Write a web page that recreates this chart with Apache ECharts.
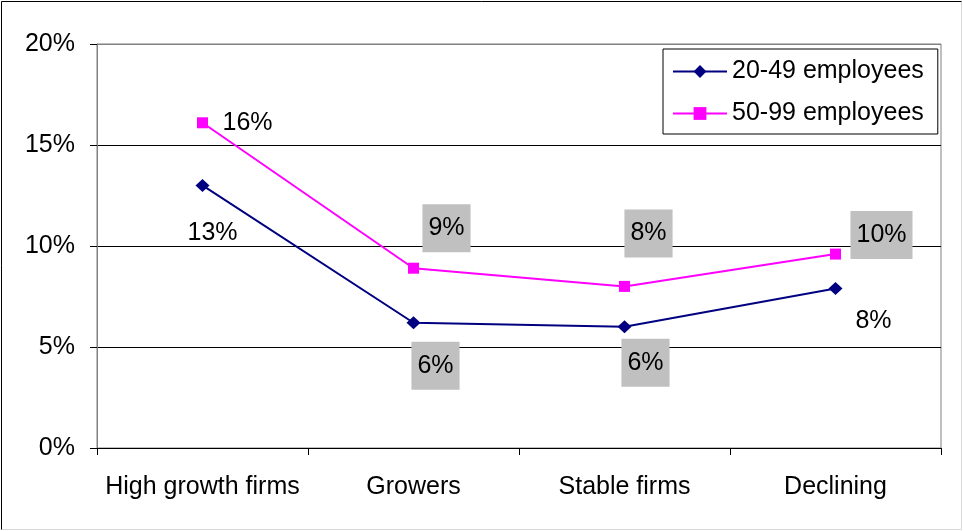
<!DOCTYPE html>
<html>
<head>
<meta charset="utf-8">
<script src="https://cdn.jsdelivr.net/npm/echarts@6/dist/echarts.min.js"></script>
<style>
  html, body { margin: 0; padding: 0; background: #fff; }
  #chart { width: 963px; height: 531px; }
</style>
</head>
<body>
<div id="chart"></div>
<script>
// Share of firms by growth class, per size band (percent)
const categories = ['High growth firms', 'Growers', 'Stable firms', 'Declining'];
const seriesNames = ['20-49 employees', '50-99 employees'];
const firms20to49 = [13.0, 6.2, 6.0, 7.9];
const firms50to99 = [16.1, 8.9, 8.0, 9.6];
const yTickValues = [0, 5, 10, 15, 20];

// Per-point label placement (offset from the marker centre, boxed or plain)
const offsets20to49 = [[10, 48], [22, 43], [21, 36], [38, 33]];
const boxed20to49 = [false, true, true, false];
const offsets50to99 = [[45, 0], [33, -40], [24, -53], [46, -19]];
const boxed50to99 = [false, true, true, true];

const FONT = '"Liberation Sans", Arial, Helvetica, sans-serif';
const FS = 25;

function buildData(values, offsets, boxed) {
  return values.map((v, i) => ({
    value: v,
    label: {
      show: true,
      position: 'inside',
      offset: offsets[i],
      color: '#000',
      fontFamily: FONT,
      fontSize: FS,
      backgroundColor: boxed[i] ? '#C0C0C0' : 'transparent',
      padding: boxed[i] ? [12, 6, 11, 6] : 0,
      formatter: p => Math.round(p.value) + '%'
    }
  }));
}

const chart = echarts.init(document.getElementById('chart'), null, { renderer: 'canvas' });

chart.setOption({
  animation: false,
  backgroundColor: '#fff',
  textStyle: { fontFamily: FONT, color: '#000' },
  graphic: [
    { type: 'polyline', shape: { points: [[1.5, 530], [1.5, 1.5], [962, 1.5]] }, style: { stroke: '#000', lineWidth: 1, fill: null }, silent: true },
    { type: 'polyline', shape: { points: [[1.5, 529.5], [961.5, 529.5], [961.5, 1.5]] }, style: { stroke: '#d8d8d8', lineWidth: 1, fill: null }, silent: true }
  ],
  grid: {
    left: 97, right: 22, top: 44, bottom: 83,
    show: true, borderColor: '#808080', borderWidth: 1, backgroundColor: '#fff'
  },
  legend: {
    orient: 'vertical',
    left: 663, top: 49,
    padding: [10, 14, 8, 9],
    itemGap: 17,
    itemWidth: 54,
    itemHeight: 16,
    backgroundColor: '#fff',
    borderColor: '#000',
    borderWidth: 1,
    borderRadius: 0,
    textStyle: { fontFamily: FONT, fontSize: FS, color: '#000' },
    data: seriesNames
  },
  xAxis: {
    type: 'category',
    data: categories,
    boundaryGap: true,
    axisLine: { lineStyle: { color: '#000', width: 1 } },
    axisTick: { show: true, interval: 0, length: 7, inside: false, lineStyle: { color: '#000' } },
    axisLabel: { interval: 0, margin: 27, fontFamily: FONT, fontSize: FS, color: '#000' },
    splitLine: { show: false }
  },
  yAxis: {
    type: 'value',
    min: yTickValues[0],
    max: yTickValues[yTickValues.length - 1],
    interval: yTickValues[1] - yTickValues[0],
    axisLine: { show: true, lineStyle: { color: '#808080', width: 1 } },
    axisTick: { show: true, length: 7, lineStyle: { color: '#000' } },
    axisLabel: { margin: 22, fontFamily: FONT, fontSize: FS, color: '#000', formatter: '{value}%' },
    splitLine: { show: true, lineStyle: { color: ['#000', '#000', '#000', '#000', '#808080'], width: 1 } }
  },
  series: [
    {
      name: seriesNames[0],
      type: 'line',
      data: buildData(firms20to49, offsets20to49, boxed20to49),
      symbol: 'diamond',
      symbolSize: [14, 13],
      lineStyle: { color: '#000080', width: 2 },
      itemStyle: { color: '#000080' },
      z: 3
    },
    {
      name: seriesNames[1],
      type: 'line',
      data: buildData(firms50to99, offsets50to99, boxed50to99),
      symbol: 'rect',
      symbolSize: 11,
      lineStyle: { color: '#FF00FF', width: 2 },
      itemStyle: { color: '#FF00FF' },
      z: 3
    }
  ]
});
</script>
</body>
</html>
